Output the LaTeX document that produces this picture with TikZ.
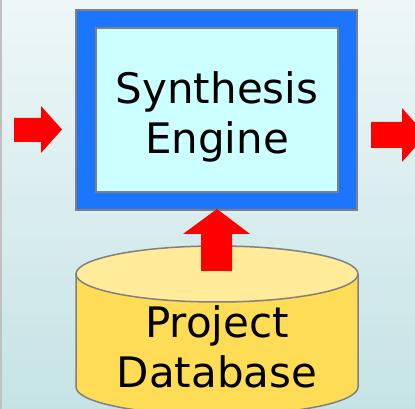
\documentclass[tikz,border=0pt]{standalone}
\usepackage{fontspec}
\setmainfont{DejaVu Sans}
\definecolor{bgtop}{HTML}{EEF7F7}
\definecolor{bgbot}{HTML}{C5E3E5}
\definecolor{frameblue}{HTML}{1C75FF}
\definecolor{panelcyan}{HTML}{CCFFFF}
\definecolor{dbtop}{HTML}{FFEB99}
\definecolor{dbbody}{HTML}{FFDC55}
\definecolor{edgegray}{HTML}{808080}
\definecolor{sidegray}{HTML}{C0C0C0}
\tikzset{
  bigtext/.style={font=\fontsize{42}{50}\selectfont, align=center, text=black, inner sep=0pt},
  flow/.style={fill=red, draw=none},
  outline/.style={draw=edgegray, line width=2pt},
}
\begin{document}
\begin{tikzpicture}[x=1pt,y=1pt]
\useasboundingbox (0,0) rectangle (415,409);
\clip (0,0) rectangle (415,409);
% background panel
\shade[top color=bgtop, bottom color=bgbot] (0,0) rectangle (415,409);
\fill[sidegray] (0,0) rectangle (2,409);

% engine: blue frame with cyan panel
\node[outline, fill=frameblue, minimum width=281pt, minimum height=200pt, inner sep=0pt] (frame) at (216.5,299) {};
\node[outline, fill=panelcyan, minimum width=242pt, minimum height=164pt, inner sep=0pt] (engine) at (217,299) {};
\node[bigtext] (enginetext) at (217,292) {Synthesis\\Engine};

% project database cylinder
\coordinate (dbc) at (217,135);
\fill[dbbody] (76,135) -- (76,22) arc[start angle=180, end angle=360, x radius=141pt, y radius=28pt] -- (358,135) -- cycle;
\draw[outline, line width=1.5pt] (76,135) -- (76,22) arc[start angle=180, end angle=360, x radius=141pt, y radius=28pt] -- (358,135);
\filldraw[fill=dbtop, draw=edgegray, line width=1.5pt] (dbc) ellipse[x radius=141pt, y radius=28pt];
\node[bigtext] (db) at (217,62) {Project\\Database};

% flow arrows
\fill[flow] (14,291) -- (41,291) -- (41,303) -- (62,279.5) -- (41,256) -- (41,267) -- (14,267) -- cycle;
\fill[flow] (371,287) -- (402,287) -- (402,301) -- (426,274) -- (402,247) -- (402,261) -- (371,261) -- cycle;
\fill[flow] (201,138) -- (201,175) -- (183,175) -- (217,200) -- (250,175) -- (232,175) -- (232,138) -- cycle;
\end{tikzpicture}
\end{document}
